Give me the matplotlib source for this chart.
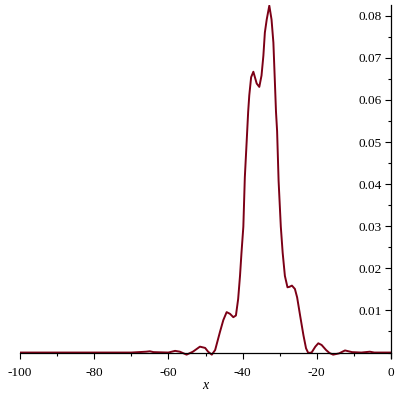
import matplotlib
matplotlib.use('Agg')
import matplotlib.pyplot as plt
from matplotlib.ticker import MultipleLocator, FixedLocator

# Curve values.
xValues = [-100, -70, -66, -65, -64, -60, -58.2, -56.9, -55.1, -53.4, -51.5, -50.1, -49.3,
           -48.3, -47.4, -46.1, -45.2, -44.3, -43.4, -42.5, -41.8, -41.2, -40.7, -40.3, -39.8,
           -39.4, -38.9, -38.5, -38.2, -37.7, -37.1, -36.2, -35.5, -34.9, -34.4, -34.0, -33.5,
           -32.8, -32.2, -31.7, -31.3, -31.0, -30.7, -30.3, -29.7, -29.2, -28.6, -27.9, -27.4,
           -26.7, -25.9, -25.3, -24.5, -23.6, -22.9, -22.3, -21.4, -20.4, -19.6, -18.7, -17.5,
           -16.6, -15.6, -14.0, -12.4, -10.5, -8.0, -5.7, -4.5, 0]
yValues = [0, 0, 0.0002, 0.0003, 0.0001, 0, 0.0004, 0.0002, -0.0005, 0.0002, 0.0014, 0.0011,
           0.0002, -0.0005, 0.0006, 0.0049, 0.0077, 0.0096, 0.0092, 0.0084, 0.0088, 0.0127,
           0.0182, 0.0237, 0.0299, 0.0416, 0.0502, 0.0572, 0.0611, 0.0654, 0.0667, 0.0639,
           0.0631, 0.0658, 0.0705, 0.0760, 0.0791, 0.0824, 0.0791, 0.0736, 0.0643, 0.0572,
           0.0526, 0.0408, 0.0299, 0.0237, 0.0182, 0.0155, 0.0156, 0.0159, 0.0151, 0.0131,
           0.0088, 0.0041, 0.0010, -0.0001, 0, 0.0014, 0.0022, 0.0018, 0.0006, -0.0001,
           -0.0005, -0.0002, 0.0005, 0.0001, 0, 0.0002, 0, 0]
xTicks = [-100, -80, -60, -40, -20, 0]
yTicks = [0.01, 0.02, 0.03, 0.04, 0.05, 0.06, 0.07, 0.08]

plt.rcParams['font.family'] = ['Liberation Serif', 'DejaVu Serif']

fig = plt.figure(figsize=(4, 4), dpi=100)
axes = fig.add_axes([0.05, 0.106, 0.9275, 0.882])
axes.plot(xValues, yValues, color='#7c0016', linewidth=1.4, solid_joinstyle='round')
axes.set_xlim(-100, 0)
axes.set_ylim(-0.0012, 0.0826)

# Maple-style axes crossing at the origin.
axes.spines['top'].set_visible(False)
axes.spines['right'].set_visible(False)
axes.spines['bottom'].set_position(('data', 0))
axes.spines['left'].set_position(('data', 0))
for side in ['bottom', 'left']:
    axes.spines[side].set_linewidth(0.9)
    axes.spines[side].set_zorder(3)

axes.xaxis.set_major_locator(FixedLocator(xTicks))
axes.xaxis.set_minor_locator(MultipleLocator(10))
axes.yaxis.set_major_locator(FixedLocator(yTicks))
axes.yaxis.set_minor_locator(MultipleLocator(0.005))
axes.set_xticklabels([str(t) for t in xTicks])
axes.set_yticklabels(['{:.2f}'.format(t) for t in yTicks])
axes.tick_params(axis='both', which='major', direction='out', length=4, width=0.8,
                 labelsize=9.5)
axes.tick_params(axis='both', which='minor', direction='out', length=2.5, width=0.8)
axes.tick_params(axis='x', which='major', pad=6.5)
axes.tick_params(axis='y', which='major', pad=2.5)

fig.text(0.513, 0.02, 'x', fontsize=10, style='italic', ha='center', va='bottom')

plt.savefig('out.png', dpi=100)
